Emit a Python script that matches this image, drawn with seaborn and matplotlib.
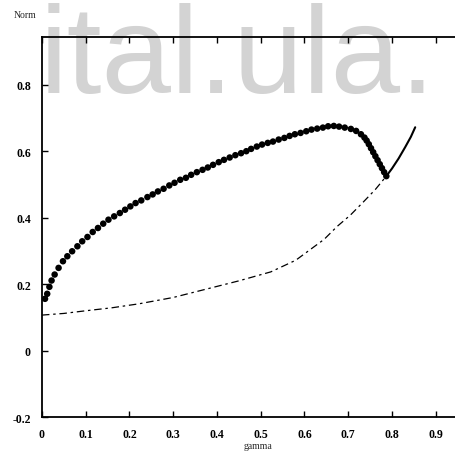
import matplotlib
matplotlib.use("Agg")
import matplotlib.pyplot as plt
import matplotlib.ticker as mticker
import pandas as pd
import seaborn as sns

# dotted branch
dot_gamma = [
    0.007, 0.012, 0.017, 0.022, 0.029, 0.038, 0.048, 0.058, 0.069, 0.081,
    0.092, 0.104, 0.116, 0.128, 0.140, 0.152, 0.165, 0.178, 0.190, 0.202,
    0.214, 0.227, 0.241, 0.253, 0.265, 0.278, 0.291, 0.303, 0.316, 0.329,
    0.341, 0.354, 0.367, 0.379, 0.391, 0.404, 0.416, 0.429, 0.442, 0.455,
    0.467, 0.478, 0.491, 0.503, 0.516, 0.528, 0.541, 0.554, 0.566, 0.578,
    0.591, 0.604, 0.616, 0.629, 0.642, 0.654, 0.667, 0.679, 0.692, 0.706,
    0.718, 0.729, 0.737, 0.742, 0.747, 0.752, 0.757, 0.762, 0.767, 0.772,
    0.777, 0.782, 0.787,
]
dot_norm = [
    0.156, 0.171, 0.192, 0.211, 0.229, 0.249, 0.269, 0.284, 0.299, 0.314,
    0.329, 0.342, 0.357, 0.369, 0.382, 0.394, 0.404, 0.414, 0.424, 0.434,
    0.444, 0.452, 0.462, 0.470, 0.479, 0.487, 0.497, 0.505, 0.514, 0.520,
    0.529, 0.537, 0.544, 0.551, 0.559, 0.567, 0.574, 0.581, 0.588, 0.594,
    0.600, 0.607, 0.614, 0.620, 0.625, 0.629, 0.635, 0.640, 0.646, 0.651,
    0.655, 0.660, 0.665, 0.668, 0.671, 0.675, 0.676, 0.674, 0.671, 0.667,
    0.661, 0.651, 0.641, 0.632, 0.621, 0.609, 0.597, 0.585, 0.573, 0.561,
    0.549, 0.537, 0.525,
]

# solid branch after the crossing
solid_gamma = [0.787, 0.800, 0.815, 0.830, 0.843, 0.853]
solid_norm = [0.525, 0.548, 0.578, 0.612, 0.643, 0.672]

# dashed branch
dash_gamma = [0.0, 0.05, 0.10, 0.16, 0.222, 0.30, 0.387, 0.45, 0.523, 0.58,
              0.645, 0.674, 0.705, 0.735, 0.762, 0.787]
dash_norm = [0.107, 0.112, 0.120, 0.129, 0.141, 0.160, 0.189, 0.210, 0.237, 0.272,
             0.335, 0.373, 0.408, 0.448, 0.485, 0.525]

x_ticks = [0, 0.1, 0.2, 0.3, 0.4, 0.5, 0.6, 0.7, 0.8, 0.9]
y_ticks = [-0.2, 0, 0.2, 0.4, 0.6, 0.8]

sns.set_style("white")
plt.rcParams["font.family"] = ["Liberation Serif", "DejaVu Serif"]

fig = plt.figure(figsize=(4.56, 4.56), dpi=100)

# watermark behind everything
fig.text(0.087, 0.797, "ital.ula.", fontsize=90, color="#d3d3d3",
         family="Liberation Sans", ha="left", va="baseline", zorder=-5)

ax = fig.add_axes([0.092, 0.083, 0.95, 0.834])
ax.patch.set_alpha(0)

dots = pd.DataFrame({"gamma": dot_gamma, "norm": dot_norm})
solid = pd.DataFrame({"gamma": solid_gamma, "norm": solid_norm})
dashed = pd.DataFrame({"gamma": dash_gamma, "norm": dash_norm})

sns.lineplot(data=dashed, x="gamma", y="norm", ax=ax, color="black", lw=0.9,
             linestyle=(0, (6, 3, 2, 3)), sort=False)
sns.lineplot(data=solid, x="gamma", y="norm", ax=ax, color="black", lw=1.5, sort=False)
sns.scatterplot(data=dots, x="gamma", y="norm", ax=ax, color="black", s=22,
                edgecolor="none", zorder=3)

ax.set_xlim(0, 0.99)
ax.set_ylim(-0.2, 0.944)
ax.set_xticks(x_ticks)
ax.set_yticks(y_ticks)
fmt = mticker.FuncFormatter(lambda v, p: "0" if abs(v) < 1e-9 else f"{v:g}")
ax.xaxis.set_major_formatter(fmt)
ax.yaxis.set_major_formatter(fmt)
ax.tick_params(direction="in", length=4, width=1, labelsize=8.5, colors="black",
               top=True, bottom=True, left=True, right=False, pad=8)
for lab in ax.get_xticklabels() + ax.get_yticklabels():
    lab.set_fontweight("bold")
for side in ["left", "bottom", "top"]:
    ax.spines[side].set_color("black")
    ax.spines[side].set_linewidth(1.3)
ax.spines["right"].set_visible(False)

ax.set_xlabel("")
ax.set_ylabel("")
fig.text(0.565, 0.02, "gamma", fontsize=7, ha="center", va="center")
fig.text(0.055, 0.965, "Norm", fontsize=7, ha="center", va="center")

fig.savefig("out.png", dpi=100)
